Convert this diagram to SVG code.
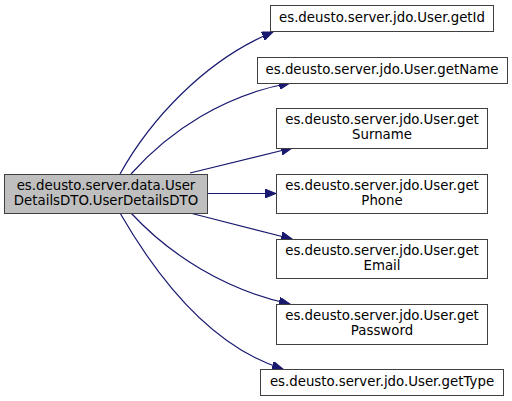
<svg xmlns="http://www.w3.org/2000/svg" width="512" height="401" viewBox="0 0 512 401">
<style>
.n rect{fill:#ffffff;stroke:#404040;stroke-width:1}
#main rect{fill:#bfbfbf}
text{font-family:"DejaVu Sans",sans-serif;font-size:13.33px;fill:#000;text-anchor:middle}
.e path{fill:none;stroke:#191970;stroke-width:1.2}
</style>
<defs>
<marker id="ah" markerUnits="userSpaceOnUse" markerWidth="12" markerHeight="9" refX="11" refY="4.5" orient="auto">
<path d="M0,0 L11,4.5 L0,9 z" fill="#191970" stroke="#191970"/>
</marker>
</defs>
<g class="e">
<path d="M120,174 C150,120 205,60 273,32" marker-end="url(#ah)"/>
<path d="M131,174 C170,130 225,95 290,83" marker-end="url(#ah)"/>
<path d="M190,173 L292,148" marker-end="url(#ah)"/>
<path d="M208,193.5 L276,193.5" marker-end="url(#ah)"/>
<path d="M190,213 L292,239" marker-end="url(#ah)"/>
<path d="M131,213 C170,255 225,290 290,304" marker-end="url(#ah)"/>
<path d="M120,213 C150,265 205,345 283,369" marker-end="url(#ah)"/>
</g>
<g id="main" class="n"><rect x="4.5" y="174.5" width="203" height="39"/><text x="106" y="190">es.deusto.server.data.User</text><text x="106" y="205">DetailsDTO.UserDetailsDTO</text></g>
<g id="getId" class="n"><rect x="270.5" y="5.5" width="223" height="26"/><text x="382" y="22">es.deusto.server.jdo.User.getId</text></g>
<g id="getName" class="n"><rect x="257.5" y="57.5" width="250" height="26"/><text x="382" y="74">es.deusto.server.jdo.User.getName</text></g>
<g id="getSurname" class="n"><rect x="276.5" y="108.5" width="211" height="40"/><text x="382" y="124">es.deusto.server.jdo.User.get</text><text x="382" y="139">Surname</text></g>
<g id="getPhone" class="n"><rect x="276.5" y="174.5" width="211" height="39"/><text x="382" y="190">es.deusto.server.jdo.User.get</text><text x="382" y="205">Phone</text></g>
<g id="getEmail" class="n"><rect x="276.5" y="239.5" width="211" height="39"/><text x="382" y="255">es.deusto.server.jdo.User.get</text><text x="382" y="270">Email</text></g>
<g id="getPassword" class="n"><rect x="276.5" y="304.5" width="211" height="40"/><text x="382" y="320">es.deusto.server.jdo.User.get</text><text x="382" y="335">Password</text></g>
<g id="getType" class="n"><rect x="260.5" y="369.5" width="243" height="26"/><text x="382" y="386">es.deusto.server.jdo.User.getType</text></g>
</svg>
